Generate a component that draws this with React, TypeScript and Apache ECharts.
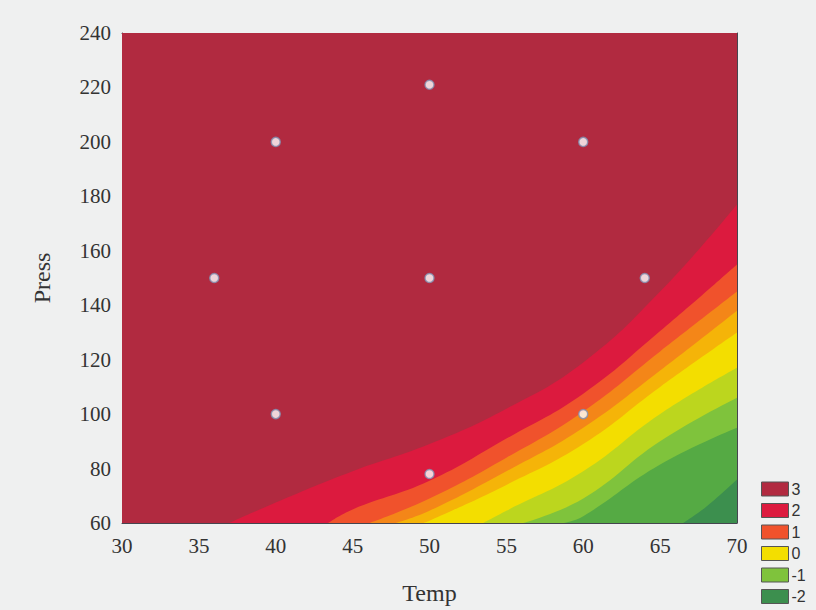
import React, { useEffect, useRef } from "react";
import * as echarts from "echarts";

// Design points (Temp, Press)
const designPoints: [number, number][] = [
  [36, 150], [40, 100], [40, 200], [50, 78], [50, 150], [50, 221], [60, 100], [60, 200], [64, 150],
];

// Contour boundaries (Temp, Press), lower-right side of each is the next band
const level3Top: [number, number][] = [[30, 240], [70, 240]];
const bound2: [number, number][] = [[37, 60], [40, 67.5], [45, 79], [50, 89], [55, 102], [60, 119], [65, 145], [70, 177]];
const bound1: [number, number][] = [[43.4, 60], [45, 65], [50, 75.5], [55, 91], [60, 107.5], [65, 130.5], [70, 155]];
const boundOrange: [number, number][] = [[46.1, 60], [50, 69], [55, 84], [60, 101], [65, 123], [70, 145]];
const boundGold: [number, number][] = [[47.8, 60], [50, 64.5], [55, 79], [60, 95], [65, 116], [70, 138]];
const bound0: [number, number][] = [[49.6, 60], [50, 60.8], [55, 74], [60, 89], [65, 110], [70, 130]];
const boundYellowGreen: [number, number][] = [[53.5, 60], [55, 64.5], [60, 79], [65, 100], [70, 117]];
const boundM1: [number, number][] = [[56.1, 60], [60, 69], [65, 90], [70, 106]];
const boundGreen: [number, number][] = [[58.7, 60], [60, 62.5], [65, 81.5], [70, 95]];
const boundM2: [number, number][] = [[66.5, 60], [68, 66], [70, 76]];

const bands = [
  { name: "3", data: level3Top, color: "#b12a40" },
  { name: "2", data: bound2, color: "#dc1a3e" },
  { name: "1", data: bound1, color: "#f0522c" },
  { name: "b-orange", data: boundOrange, color: "#f48618" },
  { name: "b-gold", data: boundGold, color: "#f5b408" },
  { name: "0", data: bound0, color: "#f3de00" },
  { name: "b-yg", data: boundYellowGreen, color: "#bcd61e" },
  { name: "-1", data: boundM1, color: "#7fc33c" },
  { name: "b-green", data: boundGreen, color: "#55aa44" },
  { name: "-2", data: boundM2, color: "#3c8f4e" },
];

const legendNames = ["3", "2", "1", "0", "-1", "-2"];
const xTicks = { min: 30, max: 70, interval: 5 };
const yTicks = { min: 60, max: 240, interval: 20 };

export default function App() {
  const ref = useRef<HTMLDivElement>(null);
  useEffect(() => {
    if (!ref.current) return;
    const chart = echarts.init(ref.current, undefined, { renderer: "svg" });
    const serif = "Liberation Serif";
    const frame = "#45454f";
    const tickStyle = { show: true, inside: true, length: 5, lineStyle: { color: frame, width: 1 } };
    const series: any[] = bands.map((b) => ({
      name: b.name,
      type: "line",
      data: b.data,
      smooth: 0.45,
      showSymbol: false,
      symbol: "none",
      color: b.color,
      lineStyle: { width: 0, color: b.color },
      areaStyle: { color: b.color, opacity: 1, origin: "start" },
      silent: true,
      z: 1,
    }));
    series.push({
      name: "points",
      type: "scatter",
      data: designPoints,
      symbolSize: 9,
      itemStyle: { color: "#ffffff", borderColor: "#7f8fb0", borderWidth: 1.5 },
      z: 5,
    });
    chart.setOption({
      animation: false,
      backgroundColor: "#eff0f0",
      grid: { left: 122, top: 33, right: 79, bottom: 82, containLabel: false },
      legend: {
        data: legendNames,
        orient: "vertical",
        left: 756,
        top: 476,
        icon: "rect",
        itemWidth: 27,
        itemHeight: 14,
        itemGap: 5.5,
        itemStyle: { borderColor: "#555", borderWidth: 1 },
        textStyle: { fontFamily: "Liberation Sans", fontSize: 16, lineHeight: 14, color: "#333", padding: [0, 0, 0, -2] },
        selectedMode: false,
      },
      xAxis: [
        {
          type: "value",
          ...xTicks,
          name: "Temp",
          nameLocation: "middle",
          nameGap: 58,
          nameTextStyle: { fontFamily: serif, fontSize: 24, color: "#333" },
          axisLine: { show: true, lineStyle: { color: frame, width: 1 } },
          axisTick: tickStyle,
          axisLabel: { fontFamily: serif, fontSize: 21, color: "#333", margin: 12 },
          splitLine: { show: false },
        },
        {
          type: "value",
          position: "top",
          ...xTicks,
          axisLine: { show: true, lineStyle: { color: frame, width: 1 } },
          axisTick: tickStyle,
          axisLabel: { show: false },
          splitLine: { show: false },
        },
      ],
      yAxis: [
        {
          type: "value",
          ...yTicks,
          name: "Press",
          nameLocation: "middle",
          nameGap: 68,
          nameTextStyle: { fontFamily: serif, fontSize: 24, color: "#333" },
          axisLine: { show: true, lineStyle: { color: frame, width: 1 } },
          axisTick: tickStyle,
          axisLabel: { fontFamily: serif, fontSize: 21, color: "#333", margin: 11 },
          splitLine: { show: false },
        },
        {
          type: "value",
          position: "right",
          ...yTicks,
          axisLine: { show: true, lineStyle: { color: frame, width: 1 } },
          axisTick: tickStyle,
          axisLabel: { show: false },
          splitLine: { show: false },
        },
      ],
      series,
    });
    return () => chart.dispose();
  }, []);
  return <div ref={ref} style={{ width: 816, height: 610, position: "fixed", left: 0, top: 0 }} />;
}
